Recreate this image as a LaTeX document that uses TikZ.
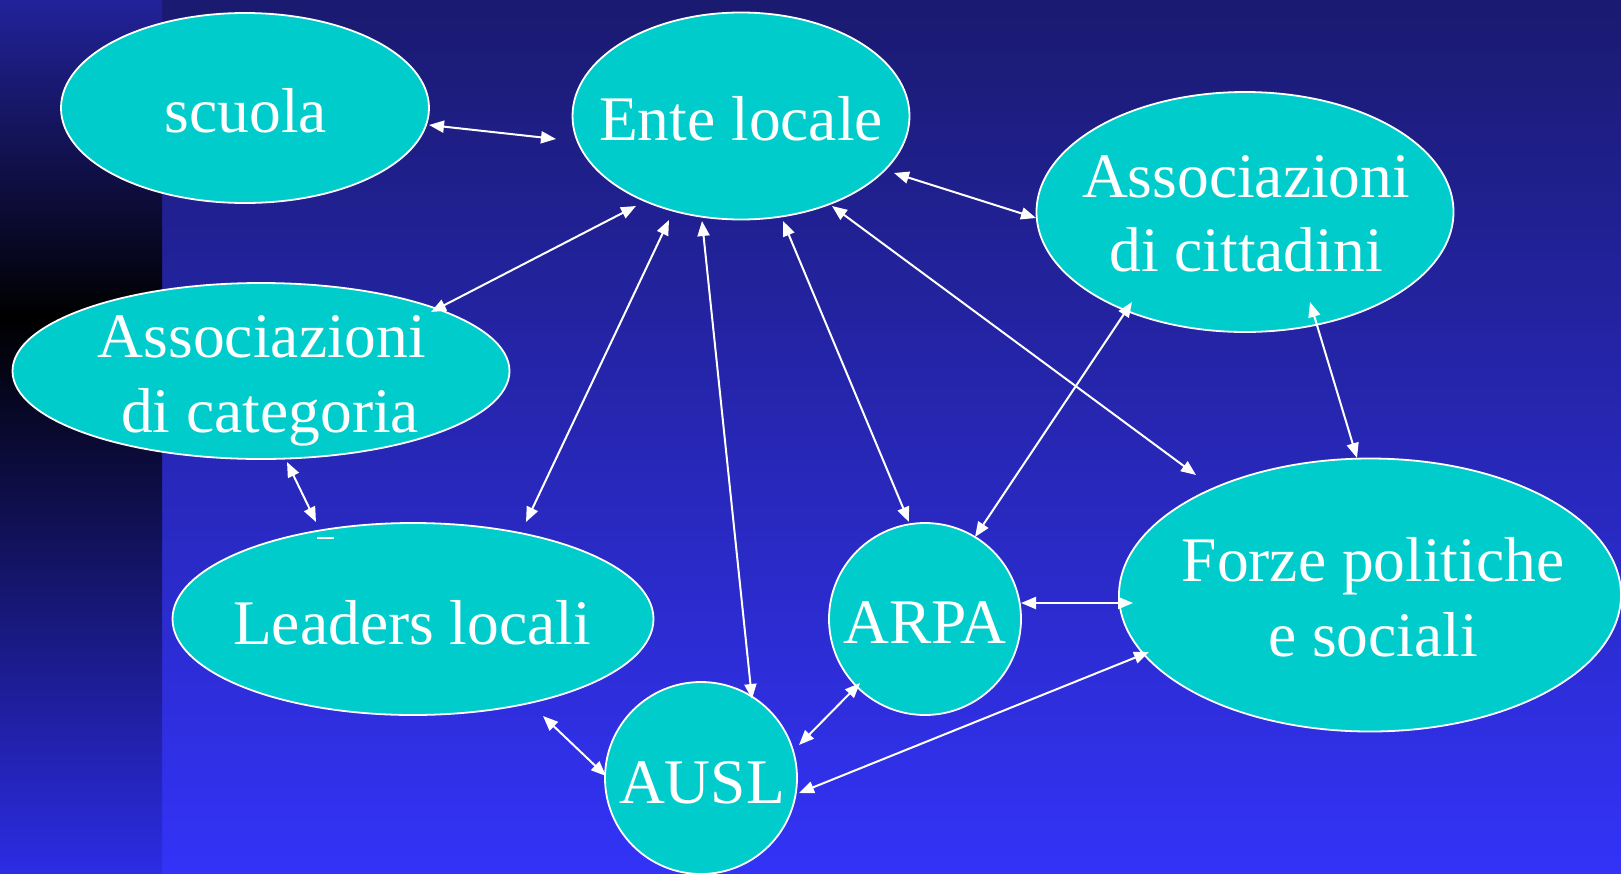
\documentclass[tikz,border=0pt]{standalone}
\usepackage{fontspec}
\setmainfont{Liberation Serif}
\usetikzlibrary{shapes.geometric,arrows.meta,calc}
\definecolor{tealfill}{RGB}{0,204,204}
\definecolor{bgtop}{RGB}{26,26,112}
\definecolor{bgbot}{RGB}{51,51,248}
\definecolor{sttop}{RGB}{34,34,155}
\definecolor{stbot}{RGB}{44,44,228}
\begin{document}
\begin{tikzpicture}[x=1pt,y=-1pt,
  bub/.style={ellipse, draw=white, line width=1.8pt, fill=tealfill, inner sep=0pt},
  circ/.style={circle, draw=white, line width=1.8pt, fill=tealfill, inner sep=0pt},
  txt/.style={text=white, inner sep=0pt, align=center, anchor=base,
              font=\fontsize{63.5}{74}\selectfont},
  link/.style={draw=white, line width=2pt,
    {Triangle[length=15pt,width=12pt]}-{Triangle[length=15pt,width=12pt]}}]
\useasboundingbox (0,0) rectangle (1621,873);
\begin{scope}[y=1pt]
  \shade[top color=bgtop, bottom color=bgbot] (162,0) rectangle (1621,-873);
  \shade[top color=sttop, bottom color=black] (0,0) rectangle (162,-317);
  \shade[top color=black, bottom color=stbot] (0,-317) rectangle (162,-873);
\end{scope}

\node[bub, minimum width=368pt, minimum height=190pt] (scuola) at (245,108) {};
\node[bub, minimum width=337pt, minimum height=207pt] (ente) at (741,116) {};
\node[bub, minimum width=417pt, minimum height=240pt] (acit) at (1245,212) {};
\node[bub, minimum width=497pt, minimum height=176pt] (acat) at (261,371) {};
\node[bub, minimum width=481pt, minimum height=192pt] (leaders) at (413,619) {};
\node[circ, minimum size=192pt] (arpa) at (925,619) {};
\node[bub, minimum width=502pt, minimum height=273pt] (forze) at (1370,595) {};
\node[circ, minimum size=192pt] (ausl) at (701,778) {};

\node[txt] (scuolaT) at (246,132) {scuola};
\node[txt] (enteT) at (741,140) {Ente locale};
\node[txt] (acitT1) at (1246,197) {Associazioni};
\node[txt] (acitT2) at (1246,271) {di cittadini};
\node[txt] (acatT1) at (262,357) {Associazioni};
\node[txt] (acatT2) at (270,432) {di categoria};
\node[txt] (leadersT) at (412,644) {Leaders locali};
\node[txt] (arpaT) at (925,643) {ARPA};
\node[txt] (forzeT1) at (1373,581) {Forze politiche};
\node[txt] (forzeT2) at (1373,656) {e sociali};
\node[txt] (auslT) at (702,803) {AUSL};
\draw[white, line width=2pt] ($(leaders)+(-96,-81)$) -- ($(leaders)+(-79,-81)$);

\draw[link] ($(scuola)+(184,17)$) -- ($(ente)+(-185,23)$);
\draw[link] ($(ente)+(-105,90)$) -- ($(acat)+(170,-59)$);
\draw[link] ($(ente)+(-72,104)$) -- ($(leaders)+(113,-97)$);
\draw[link] ($(ente)+(-39,105)$) -- ($(ausl)+(51,-79)$);
\draw[link] ($(ente)+(42,105)$) -- ($(arpa)+(-16,-97)$);
\draw[link] ($(ente)+(91,90)$) -- ($(forze)+(-174,-120)$);
\draw[link] ($(ente)+(153,57)$) -- ($(acit)+(-209,6)$);
\draw[link] ($(acit)+(-113,90)$) -- ($(arpa)+(50,-82)$);
\draw[link] ($(acit)+(65,90)$) -- ($(forze)+(-13,-137)$);
\draw[link] ($(acat)+(26,91)$) -- ($(leaders)+(-97,-97)$);
\draw[link] ($(arpa)+(96,-16)$) -- ($(forze)+(-237,8)$);
\draw[link] ($(leaders)+(130,97)$) -- ($(ausl)+(-95,-2)$);
\draw[link] ($(arpa)+(-65,64)$) -- ($(ausl)+(98,-33)$);
\draw[link] ($(forze)+(-221,57)$) -- ($(ausl)+(98,15)$);
\end{tikzpicture}
\end{document}
